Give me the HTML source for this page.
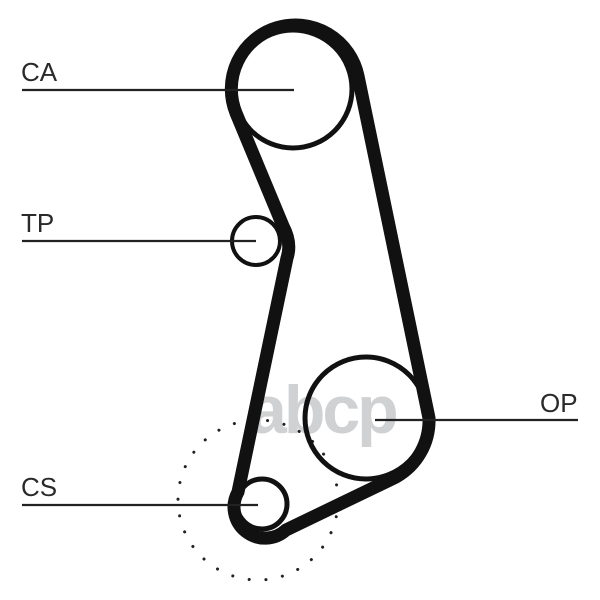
<!DOCTYPE html>
<html><head><meta charset="utf-8"><style>
html,body{margin:0;padding:0;background:#fff;}
svg{display:block}
text{font-family:"Liberation Sans",sans-serif;fill:#2a2a2a}
</style></head><body>
<svg width="600" height="600" viewBox="0 0 600 600">
<!-- watermark -->
<text x="249" y="433" font-size="68" font-weight="bold" style="fill:#cfd1d3" letter-spacing="-3">abcp</text>
<!-- dotted circle -->
<circle cx="258" cy="500" r="80" fill="none" stroke="#222" stroke-width="3" stroke-dasharray="0.1 16.7" stroke-linecap="round"/>
<!-- pulleys -->
<circle cx="293" cy="89" r="59" fill="none" stroke="#111" stroke-width="5"/>
<circle cx="256" cy="241" r="24" fill="none" stroke="#111" stroke-width="4"/>
<circle cx="366" cy="418" r="61" fill="none" stroke="#111" stroke-width="5"/>
<circle cx="262" cy="504" r="25" fill="none" stroke="#111" stroke-width="5"/>
<!-- belt -->
<path d="M236,113 L283,226 Q292,243 287,258 L238,492 A31,31 0 0 0 286,530 L396,477 A65,65 0 0 0 429,418 L358,76 A64,64 0 1 0 236,113 Z" fill="none" stroke="#111" stroke-width="13" stroke-linejoin="round"/>
<!-- leader lines -->
<g stroke="#222" stroke-width="2.2">
<line x1="22" y1="90" x2="294" y2="90"/>
<line x1="22" y1="241" x2="256" y2="241"/>
<line x1="22" y1="505" x2="258" y2="505"/>
<line x1="375" y1="420" x2="578" y2="420"/>
</g>
<text x="21" y="81" font-size="26">CA</text>
<text x="21" y="232" font-size="26">TP</text>
<text x="21" y="496" font-size="26">CS</text>
<text x="540" y="412" font-size="26">OP</text>
</svg>
</body></html>
